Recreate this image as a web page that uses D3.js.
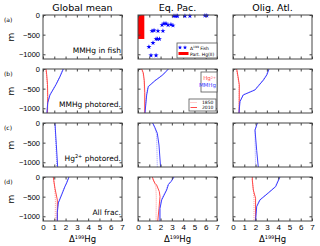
<!DOCTYPE html>
<html>
<head>
<meta charset="utf-8">
<script src="https://cdn.jsdelivr.net/npm/d3@7"></script>
<style>
  body { margin: 0; background: #fff; }
  svg { font-family: "DejaVu Sans", sans-serif; }
  .tick line { stroke: #444; }
</style>
</head>
<body>
<div id="graph"></div>
<script>

var columns = ['Global mean', 'Eq. Pac.', 'Olig. Atl.']
var rowLabels = ['(a)', '(b)', '(c)', '(d)']
var rowNotes = ['MMHg in fish', 'MMHg photored.', 'Hg²⁺ photored.', 'All frac.']
var xTicks = [0, 1, 2, 3, 4, 5, 6, 7]
var yTicks = [0, -500, -1000]

// fish Δ199Hg, Eq. Pac. [value, depth m]
var fishEP = [
  [3.19, -25], [3.37, -25], [3.5, -25], [4.16, -25], [4.6, -25], [5.93, -15], [6.1, -15],
  [2.13, -254], [2.3, -216], [2.48, -216], [2.66, -254], [2.92, -241], [3.1, -266],
  [1.24, -406], [1.42, -393], [1.77, -406], [2.21, -406],
  [1.6, -610], [1.73, -610], [1.9, -610], [1.33, -711], [0.97, -812], [1.15, -1028], [1.6, -1028]
]
// particulate Hg(II) bar, Eq. Pac.
var partEP = {x: 0.56, depth: -610}

// row (b): MMHg photoreduction
var gmB_mm2010 = [[1.8, 0], [1.5, -200], [1.15, -400], [0.62, -660], [0.42, -860], [0.35, -1120]]
var gmB_mm1850 = [[1.76, 0], [1.46, -200], [1.12, -400], [0.6, -660], [0.41, -860], [0.35, -1120]]
var gmB_hg2010 = [[0.27, 0], [0.33, -150], [0.4, -400], [0.42, -700], [0.4, -1120]]
var gmB_hg1850 = [[0.25, 0], [0.31, -150], [0.38, -400], [0.4, -700], [0.39, -1120]]
var epB_mm2010 = [[2.7, 0], [2.2, -150], [1.5, -300], [0.91, -450], [0.77, -660], [0.62, -1120]]
var epB_mm1850 = [[2.65, 0], [2.15, -150], [1.46, -300], [0.88, -450], [0.75, -660], [0.6, -1120]]
var epB_hg2010 = [[0.33, 0], [0.47, -100], [0.56, -300], [0.6, -600], [0.6, -1120]]
var epB_hg1850 = [[0.3, 0], [0.44, -100], [0.53, -300], [0.57, -600], [0.57, -1120]]
var oaB_mm2010 = [[3.19, 0], [3.0, -150], [2.7, -280], [1.95, -533], [0.91, -660], [0.62, -830], [0.53, -1120]]
var oaB_mm1850 = [[3.15, 0], [2.96, -150], [2.66, -280], [1.9, -533], [0.88, -660], [0.6, -830], [0.52, -1120]]
var oaB_hg2010 = [[0.33, 0], [0.45, -200], [0.56, -400], [0.55, -1120]]
var oaB_hg1850 = [[0.3, 0], [0.42, -200], [0.53, -400], [0.53, -1120]]

// row (c): Hg2+ photoreduction
var gmC_mm2010 = [[1.06, 0], [1.18, -550], [1.3, -1120]]
var gmC_mm1850 = [[1.06, 0], [1.14, -550], [1.22, -1120]]
var epC_mm2010 = [[1.3, 0], [1.5, -120], [1.71, -260], [1.86, -560], [2.0, -1120]]
var epC_mm1850 = [[1.3, 0], [1.5, -120], [1.65, -300], [1.71, -1120]]
var oaC_mm2010 = [[2.16, 0], [1.95, -180], [2.1, -700], [2.24, -1120]]
var oaC_mm1850 = [[2.16, 0], [1.95, -180], [1.97, -700], [2.0, -1120]]

// row (d): all fractionation
var gmD_mm2010 = [[2.3, 0], [2.1, -150], [1.95, -240], [1.65, -457], [1.36, -660], [1.27, -900], [1.27, -1120]]
var gmD_mm1850 = [[2.28, 0], [2.08, -150], [1.93, -240], [1.62, -457], [1.33, -660], [1.24, -900], [1.24, -1120]]
var gmD_hg2010 = [[0.91, 0], [0.95, -80], [1.06, -287], [1.27, -584], [1.27, -1120]]
var gmD_hg1850 = [[0.91, 0], [0.95, -80], [1.04, -287], [1.1, -600], [1.08, -1120]]
var epD_mm2010 = [[3.19, 0], [2.95, -110], [2.7, -190], [2.54, -330], [2.1, -584], [1.95, -800], [1.95, -1120]]
var epD_mm1850 = [[3.15, 0], [2.91, -110], [2.66, -190], [2.5, -330], [2.06, -584], [1.9, -800], [1.9, -1120]]
var epD_hg2010 = [[1.27, 0], [1.36, -76], [1.5, -160], [1.65, -203], [1.89, -373], [1.95, -500], [1.86, -800], [1.75, -1120]]
var epD_hg1850 = [[1.27, 0], [1.36, -76], [1.48, -160], [1.58, -250], [1.62, -500], [1.6, -1120]]
var oaD_mm2010 = [[4.16, 0], [4.04, -76], [3.78, -245], [3.1, -414], [2.39, -584], [2.1, -754], [2.0, -1120]]
var oaD_mm1850 = [[4.12, 0], [4.0, -76], [3.74, -245], [3.06, -414], [2.35, -584], [2.06, -754], [1.97, -1120]]
var oaD_hg2010 = [[1.71, 0], [1.71, -76], [1.8, -330], [2.0, -540], [2.0, -1120]]
var oaD_hg1850 = [[1.71, 0], [1.71, -76], [1.8, -330], [1.86, -540], [1.86, -1120]]

var curves = [
  null,
  [
    {mm: [gmB_mm2010, gmB_mm1850], hg: [gmB_hg2010, gmB_hg1850]},
    {mm: [epB_mm2010, epB_mm1850], hg: [epB_hg2010, epB_hg1850]},
    {mm: [oaB_mm2010, oaB_mm1850], hg: [oaB_hg2010, oaB_hg1850]}
  ],
  [
    {mm: [gmC_mm2010, gmC_mm1850], hg: null},
    {mm: [epC_mm2010, epC_mm1850], hg: null},
    {mm: [oaC_mm2010, oaC_mm1850], hg: null}
  ],
  [
    {mm: [gmD_mm2010, gmD_mm1850], hg: [gmD_hg2010, gmD_hg1850]},
    {mm: [epD_mm2010, epD_mm1850], hg: [epD_hg2010, epD_hg1850]},
    {mm: [oaD_mm2010, oaD_mm1850], hg: [oaD_hg2010, oaD_hg1850]}
  ]
]

var blue = '#4040ff', red = '#ff4a4a'
var blueDot = '#9a9aff', redDot = '#ff9a9a'

var W = 320, H = 246
var colX = [43, 138, 233], rowY = [15, 69, 123, 177]
var pw = 79, ph = 44

var svg = d3.select('#graph').append('svg').attr('width', W).attr('height', H)

var x = d3.scaleLinear().domain([0, 7]).range([0, pw])
var y = d3.scaleLinear().domain([-1120, 0]).range([ph, 0])

var line = d3.line().x(d => x(d[0])).y(d => y(d[1]))

columns.forEach((name, ci) => {
  svg.append('text')
    .attr('x', colX[ci] + pw/2).attr('y', 11)
    .attr('text-anchor', 'middle')
    .style('font-size', '9.5px')
    .text(name)
})

rowLabels.forEach((lab, ri) => {
  svg.append('text')
    .attr('x', 4).attr('y', rowY[ri] + 7)
    .style('font-size', '6px')
    .text(lab)

  svg.append('text')
    .attr('transform', `translate(14,${rowY[ri] + ph/2}) rotate(-90)`)
    .attr('text-anchor', 'middle')
    .style('font-size', '9px')
    .text('m')

  columns.forEach((name, ci) => {
    var g = svg.append('g').attr('transform', `translate(${colX[ci]},${rowY[ri]})`)

    if (ri == 0 && ci == 1){
      g.append('rect')
        .attr('x', x(0)).attr('y', y(0))
        .attr('width', x(partEP.x) - x(0)).attr('height', y(partEP.depth) - y(0))
        .attr('fill', '#ff0000')
      g.selectAll('path.fish').data(fishEP).enter().append('path')
        .attr('class', 'fish')
        .attr('transform', d => `translate(${x(d[0])},${y(d[1])})`)
        .attr('d', d3.symbol(d3.symbolStar).size(8))
        .attr('fill', '#0000ff')
    }

    var c = curves[ri] && curves[ri][ci]
    if (c){
      if (c.hg) g.append('path').attr('d', line(c.hg[1])).attr('fill', 'none')
        .attr('stroke', redDot).attr('stroke-width', 1).attr('stroke-dasharray', '1,1')
      g.append('path').attr('d', line(c.mm[1])).attr('fill', 'none')
        .attr('stroke', blueDot).attr('stroke-width', 1).attr('stroke-dasharray', '1,1')
      if (c.hg) g.append('path').attr('d', line(c.hg[0])).attr('fill', 'none')
        .attr('stroke', red).attr('stroke-width', 1)
      g.append('path').attr('d', line(c.mm[0])).attr('fill', 'none')
        .attr('stroke', blue).attr('stroke-width', 1)
    }

    var bottom = g.append('g').attr('transform', `translate(0,${ph})`)
      .call(d3.axisBottom(x).tickValues(xTicks).tickSize(-2.5).tickPadding(3)
        .tickFormat(ri == 3 ? d3.format('d') : ''))
    g.append('g')
      .call(d3.axisTop(x).tickValues(xTicks).tickSize(-2.5).tickFormat(''))
    var left = g.append('g')
      .call(d3.axisLeft(y).tickValues(yTicks).tickSize(-2.5).tickPadding(3)
        .tickFormat(ci == 0 ? d3.format('d') : ''))
    g.append('g').attr('transform', `translate(${pw},0)`)
      .call(d3.axisRight(y).tickValues(yTicks).tickSize(-2.5).tickFormat(''))

    g.selectAll('.domain').remove()
    bottom.selectAll('text').style('font-size', '8px').attr('fill', '#000')
    left.selectAll('text').style('font-size', '7.5px').attr('fill', '#000')

    g.append('rect').attr('width', pw).attr('height', ph)
      .attr('fill', 'none').attr('stroke', '#444').attr('stroke-width', 1)

    if (ci == 0){
      var note = g.append('text')
        .attr('x', pw - 1).attr('y', ph - 6)
        .attr('text-anchor', 'end')
        .style('font-size', '7.5px')
      if (ri == 2){
        note.append('tspan').text('Hg')
        note.append('tspan').text('2+').style('font-size', '5px').attr('dy', -3)
        note.append('tspan').text(' photored.').attr('dy', 3)
      } else {
        note.text(rowNotes[ri])
      }
    }

    if (ri == 3){
      var xl = svg.append('text')
        .attr('x', colX[ci] + pw/2).attr('y', 242)
        .attr('text-anchor', 'middle')
        .style('font-size', '8.5px')
      xl.append('tspan').text('Δ')
      xl.append('tspan').text('199').style('font-size', '5px').attr('dy', -3)
      xl.append('tspan').text('Hg').attr('dy', 3)
    }
  })
})

// legend in Eq. Pac. (a)
var la = svg.append('g').attr('transform', `translate(${colX[1] + 39},${rowY[0] + 28})`)
la.append('rect').attr('width', 40).attr('height', 15)
  .attr('fill', '#fff').attr('stroke', '#555').attr('stroke-width', 0.8)
;[3, 8].forEach(dx => {
  la.append('path').attr('transform', `translate(${dx},4.5)`)
    .attr('d', d3.symbol(d3.symbolStar).size(6)).attr('fill', '#0000ff')
})
var lt = la.append('text').attr('x', 13).attr('y', 6.5).style('font-size', '4.5px')
lt.append('tspan').text('Δ')
lt.append('tspan').text('199').style('font-size', '3px').attr('dy', -1.5)
lt.append('tspan').text(' Fish').attr('dy', 1.5)
la.append('rect').attr('x', 1.5).attr('y', 9).attr('width', 10).attr('height', 3).attr('fill', '#ff0000')
la.append('text').attr('x', 13).attr('y', 12.5).style('font-size', '4.5px').text('Part. Hg(II)')

// species legend in Eq. Pac. (b)
var lb = svg.append('g').attr('transform', `translate(${colX[1] + 63},${rowY[1] + 3})`)
lb.append('rect').attr('width', 16).attr('height', 20)
  .attr('fill', '#fff').attr('stroke', '#555').attr('stroke-width', 0.8)
var s1 = lb.append('text').attr('x', 15).attr('y', 8).attr('text-anchor', 'end')
  .style('font-size', '5.5px').attr('fill', red)
s1.append('tspan').text('Hg')
s1.append('tspan').text('2+').style('font-size', '3.5px').attr('dy', -1.5)
lb.append('text').attr('x', 15).attr('y', 15).attr('text-anchor', 'end')
  .style('font-size', '5.5px').attr('fill', blue).text('MMHg')

// year legend in Eq. Pac. (b)
var ly = svg.append('g').attr('transform', `translate(${colX[1] + 51},${rowY[1] + 30})`)
ly.append('rect').attr('width', 27).attr('height', 12)
  .attr('fill', '#fff').attr('stroke', '#555').attr('stroke-width', 0.8)
ly.append('line').attr('x1', 1.5).attr('x2', 8).attr('y1', 3.5).attr('y2', 3.5)
  .attr('stroke', redDot).attr('stroke-dasharray', '1,1')
ly.append('line').attr('x1', 1.5).attr('x2', 8).attr('y1', 8.5).attr('y2', 8.5)
  .attr('stroke', red)
ly.append('text').attr('x', 13).attr('y', 5).style('font-size', '4.5px').text('1850')
ly.append('text').attr('x', 13).attr('y', 10).style('font-size', '4.5px').text('2010')

</script>
</body>
</html>
